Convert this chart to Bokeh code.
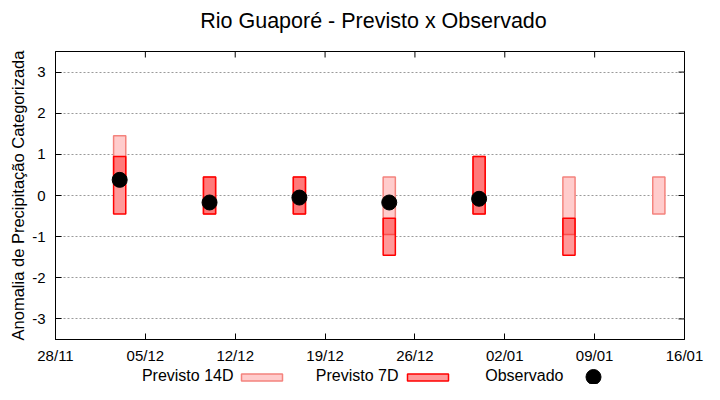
import math
import pandas as pd
from bokeh.plotting import figure
from bokeh.layouts import column
from bokeh.models import (Range1d, FixedTicker, DatetimeTickFormatter, LinearAxis,
                          DatetimeAxis, Grid, ColumnDataSource)
from bokeh.core.properties import value
from bokeh.embed import file_html
from bokeh.resources import INLINE

# ---- data ----
title_text = "Rio Guaporé - Previsto x Observado"
y_label = "Anomalia de Precipitação Categorizada"

x_tick_dates = ["2024-11-28", "2024-12-05", "2024-12-12", "2024-12-19",
                "2024-12-26", "2025-01-02", "2025-01-09", "2025-01-16"]
y_ticks = [-3, -2, -1, 0, 1, 2, 3]
y_tick_labels = ["-3", "-2", "-1", "0", "1", "2", "3"]
y_limits = [-3.5, 3.5]

p14_dates = ["2024-12-03", "2024-12-10", "2024-12-17", "2024-12-24",
             "2024-12-31", "2025-01-07", "2025-01-14"]
p14_low = [0.45, -0.45, -0.45, -0.95, -0.45, -0.95, -0.45]
p14_high = [1.45, 0.45, 0.45, 0.45, 0.95, 0.45, 0.45]

p7_dates = ["2024-12-03", "2024-12-10", "2024-12-17", "2024-12-24",
            "2024-12-31", "2025-01-07"]
p7_low = [-0.45, -0.45, -0.45, -1.45, -0.45, -1.45]
p7_high = [0.95, 0.45, 0.45, -0.55, 0.95, -0.55]

obs_dates = ["2024-12-03", "2024-12-10", "2024-12-17", "2024-12-24", "2024-12-31"]
obs_values = [0.38, -0.17, -0.05, -0.17, -0.08]

legend_names = ["Previsto 14D", "Previsto 7D", "Observado"]

# ---- styles / layout ----
FONT = "Liberation Sans"
C14_FILL = "#ffcccc"
C14_LINE = "#f4837d"
C7_LINE = "#ff0000"
DAY_MS = 86400000
BAR_W = 0.95 * DAY_MS
W = 704
BL, BR = 55, 20          # left / right borders of every strip (frames line up)


def blank_fig(h):
    # frame spans canvas x BL..W-BR; x range is in canvas pixels, y runs downward
    f = figure(width=W, height=h, x_range=Range1d(BL, W - BR), y_range=Range1d(h, 0),
               x_axis_type=None, y_axis_type=None,
               min_border_left=BL, min_border_right=BR, min_border_top=0, min_border_bottom=0,
               output_backend="svg", toolbar_location=None)
    f.title.visible = False
    f.outline_line_color = None
    f.background_fill_color = "white"
    f.border_fill_color = "white"
    return f


# ---- title strip ----
tf = blank_fig(40)
tf.text(x=[373], y=[20], text=[title_text], text_font=value(FONT),
        text_font_size=value("21.5px"), text_align="center", text_baseline="middle",
        text_color="black")

# ---- main plot ----
src14 = ColumnDataSource(dict(x=pd.to_datetime(p14_dates), top=p14_high, bottom=p14_low))
src7 = ColumnDataSource(dict(x=pd.to_datetime(p7_dates), top=p7_high, bottom=p7_low))
srco = ColumnDataSource(dict(x=pd.to_datetime(obs_dates), y=obs_values))
tick_dt = pd.to_datetime(x_tick_dates)
tick_ms = [int(t.value // 10**6) for t in tick_dt]

p = figure(width=W, height=326, x_axis_type=None, y_axis_type=None,
           x_range=Range1d(tick_dt[0], tick_dt[-1]),
           y_range=Range1d(y_limits[0], y_limits[1]),
           output_backend="svg", toolbar_location=None,
           min_border_left=BL, min_border_right=BR, min_border_top=11, min_border_bottom=27)
p.title.visible = False
p.background_fill_color = "white"
p.border_fill_color = "white"
p.outline_line_color = "black"
p.outline_line_width = 1

fmt = DatetimeTickFormatter(days="%d/%m", months="%d/%m", years="%d/%m", hours="%d/%m")
xt = FixedTicker(ticks=tick_ms)
yt = FixedTicker(ticks=y_ticks)

xaxis = DatetimeAxis(ticker=xt, formatter=fmt)
yaxis = LinearAxis(ticker=yt,
                   major_label_overrides={t: l for t, l in zip(y_ticks, y_tick_labels)})
for ax in (xaxis, yaxis):
    ax.major_tick_in = 6
    ax.major_tick_out = 0
    ax.minor_tick_in = 0
    ax.minor_tick_out = 0
    ax.axis_line_color = "black"
    ax.major_tick_line_color = "black"
    ax.major_label_text_font = FONT
    ax.major_label_text_font_size = "15px"
    ax.major_label_text_color = "black"
xaxis.major_label_standoff = 7
yaxis.major_label_standoff = 10
yaxis.axis_label = y_label
yaxis.axis_label_text_font = FONT
yaxis.axis_label_text_font_size = "16.5px"
yaxis.axis_label_text_font_style = "normal"
yaxis.axis_label_text_color = "black"
yaxis.axis_label_standoff = 2
p.add_layout(xaxis, "below")
p.add_layout(yaxis, "left")

p.add_layout(Grid(dimension=1, ticker=yt, grid_line_color="#9a9a9a",
                  grid_line_dash="2 2", grid_line_width=1))

# bars
p.vbar(x="x", width=BAR_W, top="top", bottom="bottom", source=src7,
       fill_color="white", line_color=None)
p.vbar(x="x", width=BAR_W, top="top", bottom="bottom", source=src14,
       fill_color=C14_FILL, line_color=C14_LINE, line_width=1.5)
p.vbar(x="x", width=BAR_W, top="top", bottom="bottom", source=src7,
       fill_color="red", fill_alpha=0.4, line_color=C7_LINE, line_width=1.5)
p.scatter(x="x", y="y", source=srco, size=15, color="black")

# mirrored inward ticks on the top and right borders (half of each dash is clipped)
p.scatter(x=[tick_dt[-1]] * len(y_ticks), y=y_ticks, marker="dash", size=12,
          line_color="black", line_width=1)
p.scatter(x=tick_dt, y=[y_limits[1]] * len(tick_dt), marker="dash", size=12,
          angle=math.pi / 2, line_color="black", line_width=1)

# ---- legend strip (text then sample, as in the reference) ----
lf = blank_fig(18)
lf.text(x=[233, 398, 563], y=[9, 9, 9], text=legend_names, text_font=value(FONT),
        text_font_size=value("16px"), text_align="right", text_baseline="middle",
        text_color="black")
lf.quad(left=[241], right=[282], top=[7.5], bottom=[14.5],
        fill_color=C14_FILL, line_color=C14_LINE, line_width=1.5)
lf.quad(left=[407], right=[448], top=[7.5], bottom=[14.5],
        fill_color="red", fill_alpha=0.4, line_color=C7_LINE, line_width=1.5)
lf.scatter(x=[593], y=[10.5], size=15, color="black")

layout = column(tf, p, lf, spacing=0)
open("out.html", "w").write(file_html(layout, INLINE))
